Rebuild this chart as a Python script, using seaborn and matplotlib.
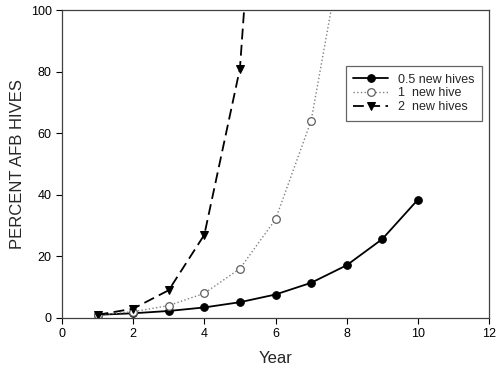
import seaborn as sns
import matplotlib.pyplot as plt
import pandas as pd

years_half = [1, 2, 3, 4, 5, 6, 7, 8, 9, 10]
afb_half = [1.0, 1.5, 2.25, 3.4, 5.1, 7.6, 11.4, 17.1, 25.6, 38.4]

years_one = [1, 2, 3, 4, 5, 6, 7, 8]
afb_one = [1, 2, 4, 8, 16, 32, 64, 128]

years_two = [1, 2, 3, 4, 5, 6]
afb_two = [1, 3, 9, 27, 81, 243]

sns.set_theme(style="ticks")
plt.rcParams['font.family'] = ['Liberation Sans', 'DejaVu Sans']

fig = plt.figure(figsize=(5, 3.74), dpi=100)
ax = fig.add_axes([0.124, 0.150, 0.854, 0.823])

df_half = pd.DataFrame({'Year': years_half, 'AFB': afb_half})
df_one = pd.DataFrame({'Year': years_one, 'AFB': afb_one})
df_two = pd.DataFrame({'Year': years_two, 'AFB': afb_two})

sns.lineplot(data=df_half, x='Year', y='AFB', ax=ax, color='black', linewidth=1.3,
             marker='o', markersize=5.5, markerfacecolor='black', markeredgecolor='black',
             label='0.5 new hives')
sns.lineplot(data=df_one, x='Year', y='AFB', ax=ax, color='#808080', linewidth=1.0,
             linestyle=':', marker='o', markersize=5.5, markerfacecolor='white',
             markeredgecolor='#606060', markeredgewidth=0.9, label='1  new hive')
sns.lineplot(data=df_two, x='Year', y='AFB', ax=ax, color='black', linewidth=1.3,
             linestyle=(0, (6, 3)), marker='v', markersize=5.5, markerfacecolor='black',
             markeredgecolor='black', label='2  new hives')

ax.set_xlim(0, 12)
ax.set_ylim(0, 100)
ax.set_xticks(range(0, 13, 2))
ax.set_yticks(range(0, 101, 20))
ax.tick_params(direction='out', length=4, width=0.8, labelsize=9, colors='black')
ax.tick_params(top=False, right=False)
for s in ax.spines.values():
    s.set_linewidth(0.9)
    s.set_color('#404040')

ax.set_xlabel('Year', fontsize=12, labelpad=8)
ax.set_ylabel('PERCENT AFB HIVES', fontsize=12, labelpad=4)

leg = ax.legend(loc='upper right', bbox_to_anchor=(0.984, 0.818), fontsize=9,
                frameon=True, fancybox=False, borderaxespad=0, handlelength=2.8,
                labelspacing=0.15, borderpad=0.6)
leg.get_frame().set_edgecolor('#404040')
leg.get_frame().set_linewidth(0.9)

plt.savefig('out.png', dpi=100)
